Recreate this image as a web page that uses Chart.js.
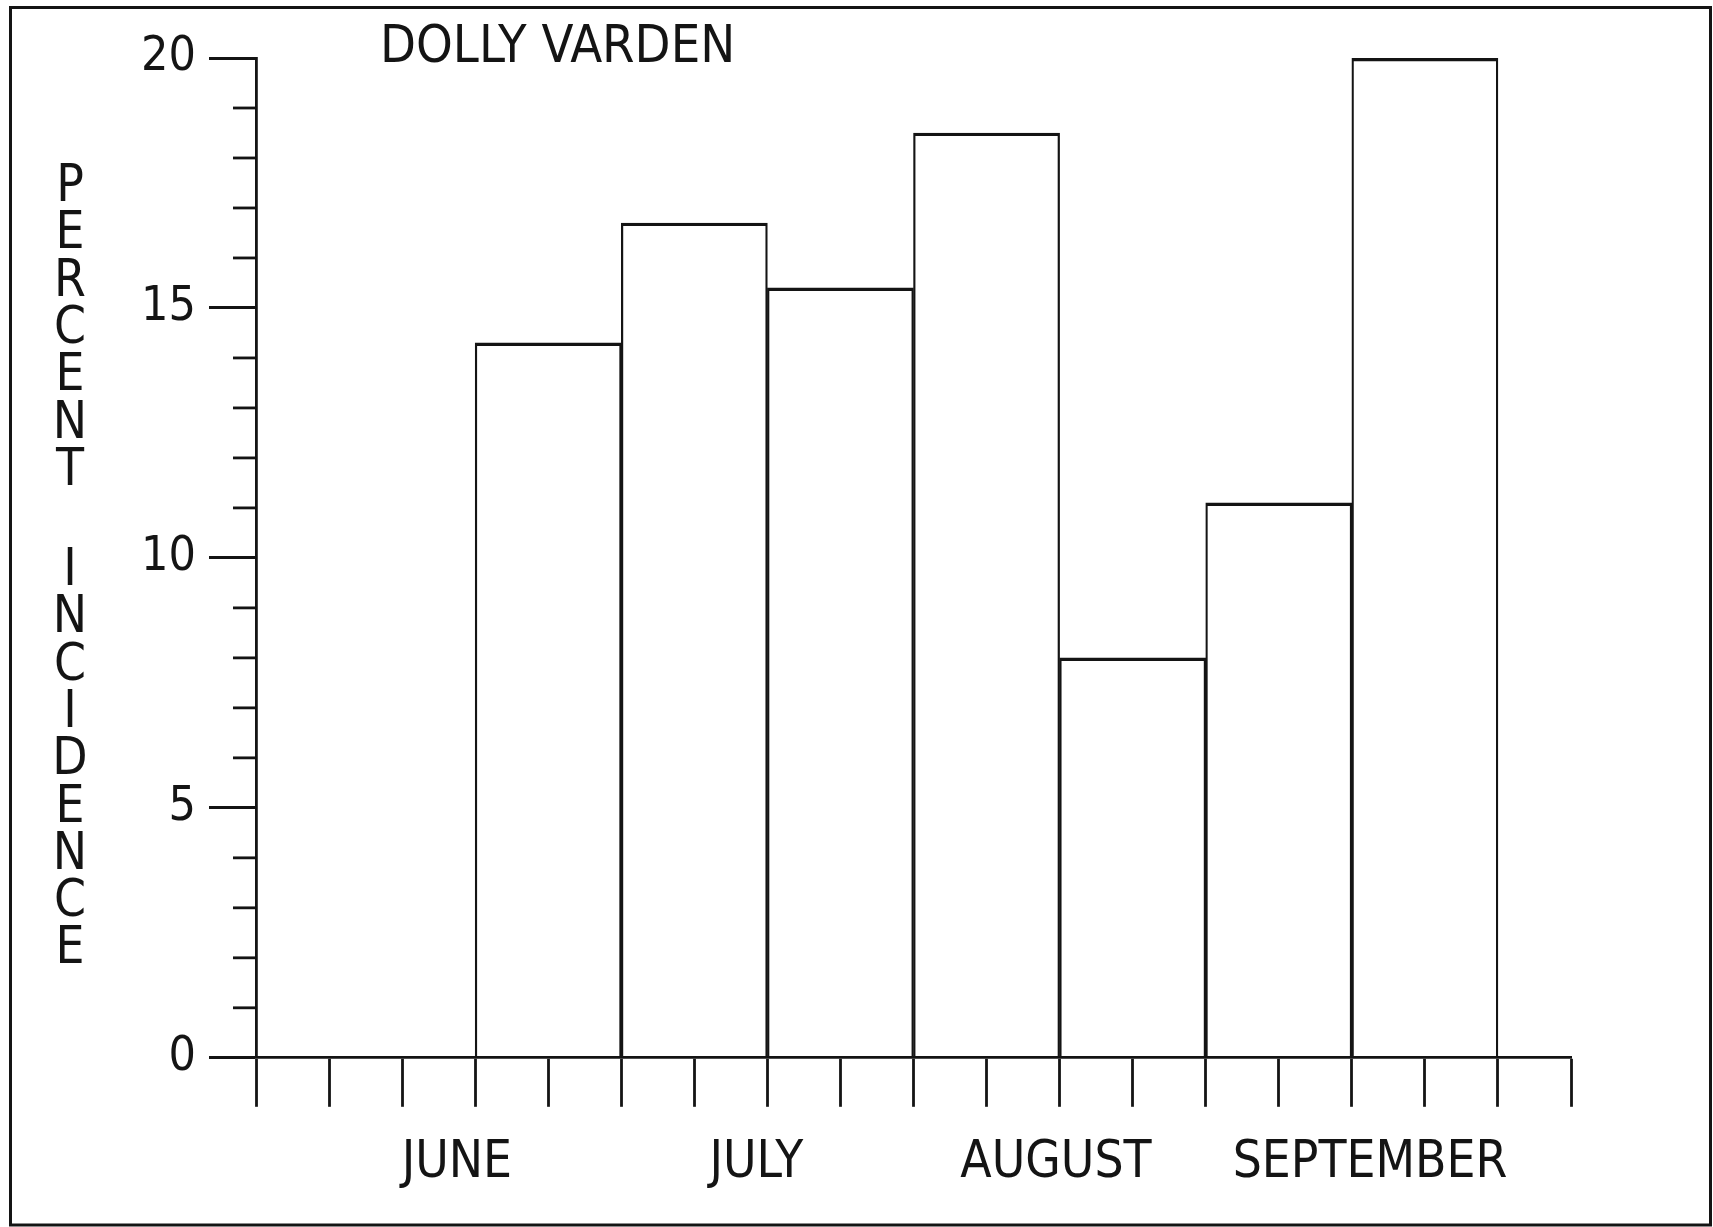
<!DOCTYPE html>
<html>
<head>
<meta charset="utf-8">
<script src="https://cdn.jsdelivr.net/npm/chart.js@4.4.0/dist/chart.umd.min.js"></script>
<style>
  html, body { margin: 0; padding: 0; background: #fff; }
  #wrap { width: 1713px; height: 1227px; }
</style>
</head>
<body>
<div id="wrap"><canvas id="chart"></canvas></div>
<script>
const INK = '#141414';
const LETTERS = '"Liberation Sans Narrow", "DejaVu Sans Condensed", "DejaVu Sans", sans-serif';
const DIGITS = '"DejaVu Sans Condensed", "DejaVu Sans", sans-serif';

// values
const chartTitle = 'DOLLY VARDEN';
const yTitleWords = ['PERCENT', 'INCIDENCE'];
const weekCenters = [4, 6, 8, 10, 12, 14, 16];          // middle of each two-week bar
const incidence = [14.3, 16.7, 15.4, 18.5, 8.0, 11.1, 20.0];
const months = ['JUNE', 'JULY', 'AUGUST', 'SEPTEMBER'];
const monthWeeks = [2.75, 6.85, 10.95, 15.25];

// frame, title, stacked y title and the short minor ticks
const plotterDecor = {
    id: 'plotterDecor',
    afterDraw(chart) {
        const ctx = chart.ctx;
        const y = chart.scales.y;
        const area = chart.chartArea;
        ctx.save();
        ctx.strokeStyle = INK;
        ctx.fillStyle = INK;

        // outer frame
        ctx.lineWidth = 3;
        ctx.strokeRect(10.5, 7.5, 1700, 1217.5);

        // minor ticks on the y axis
        ctx.lineWidth = 2.8;
        for (let v = y.min; v <= y.max; v++) {
            if (v % 5 === 0) continue;
            const py = y.getPixelForValue(v);
            ctx.beginPath();
            ctx.moveTo(area.left - 23, py);
            ctx.lineTo(area.left, py);
            ctx.stroke();
        }

        // title
        ctx.font = '52px ' + LETTERS;
        ctx.textAlign = 'left';
        ctx.textBaseline = 'alphabetic';
        ctx.fillText(chartTitle, 380, 62);

        // y title, letters stacked upright
        ctx.font = '51px ' + LETTERS;
        ctx.textAlign = 'center';
        const starts = [201, 585];
        yTitleWords.forEach((word, w) => {
            [...word].forEach((ch, i) => {
                ctx.fillText(ch, 70, starts[w] + i * 47.3);
            });
        });
        ctx.restore();
    }
};

const chart = new Chart(document.getElementById('chart'), {
    type: 'bar',
    data: {
        datasets: [{
            label: 'Percent incidence',
            data: weekCenters.map((x, i) => ({ x: x, y: incidence[i] })),
            backgroundColor: 'rgba(0,0,0,0)',
            borderColor: INK,
            borderWidth: { left: 1.6, right: 1.6, top: 2.8, bottom: 0 },
            borderSkipped: 'bottom',
            barThickness: 'flex',
            barPercentage: 1,
            categoryPercentage: 1
        }]
    },
    options: {
        responsive: true,
        maintainAspectRatio: false,
        animation: false,
        layout: { padding: { left: 0, right: 142, top: 58, bottom: 7 } },
        plugins: {
            legend: { display: false },
            tooltip: { enabled: false },
            title: { display: false }
        },
        scales: {
            x: {
                type: 'linear',
                min: 0,
                max: 18,
                offset: false,
                ticks: { stepSize: 1, display: false },
                grid: {
                    offset: false,
                    drawOnChartArea: false,
                    tickLength: 49,
                    tickWidth: 2.8,
                    tickColor: INK
                },
                border: { color: INK, width: 2.8 }
            },
            month: {
                type: 'linear',
                position: 'bottom',
                min: 0,
                max: 18,
                offset: false,
                afterBuildTicks: (scale) => {
                    scale.ticks = monthWeeks.map(v => ({ value: v }));
                },
                ticks: {
                    autoSkip: false,
                    maxRotation: 0,
                    padding: 26,
                    color: INK,
                    font: { family: LETTERS, size: 51 },
                    callback: (v, i) => months[i]
                },
                grid: { display: false, drawTicks: false },
                border: { display: false }
            },
            y: {
                min: 0,
                max: 20,
                afterFit: (scale) => { scale.width = 256; },
                ticks: {
                    stepSize: 1,
                    autoSkip: false,
                    padding: 13,
                    color: INK,
                    font: { family: DIGITS, size: 48 },
                    callback: (v) => (v % 5 === 0 ? v : '')
                },
                grid: {
                    drawOnChartArea: false,
                    tickLength: 47,
                    tickWidth: 2.8,
                    tickColor: (c) => (c.tick && c.tick.value % 5 === 0 ? INK : 'rgba(0,0,0,0)')
                },
                border: { color: INK, width: 2.8 }
            }
        }
    },
    plugins: [plotterDecor]
});
</script>
</body>
</html>
